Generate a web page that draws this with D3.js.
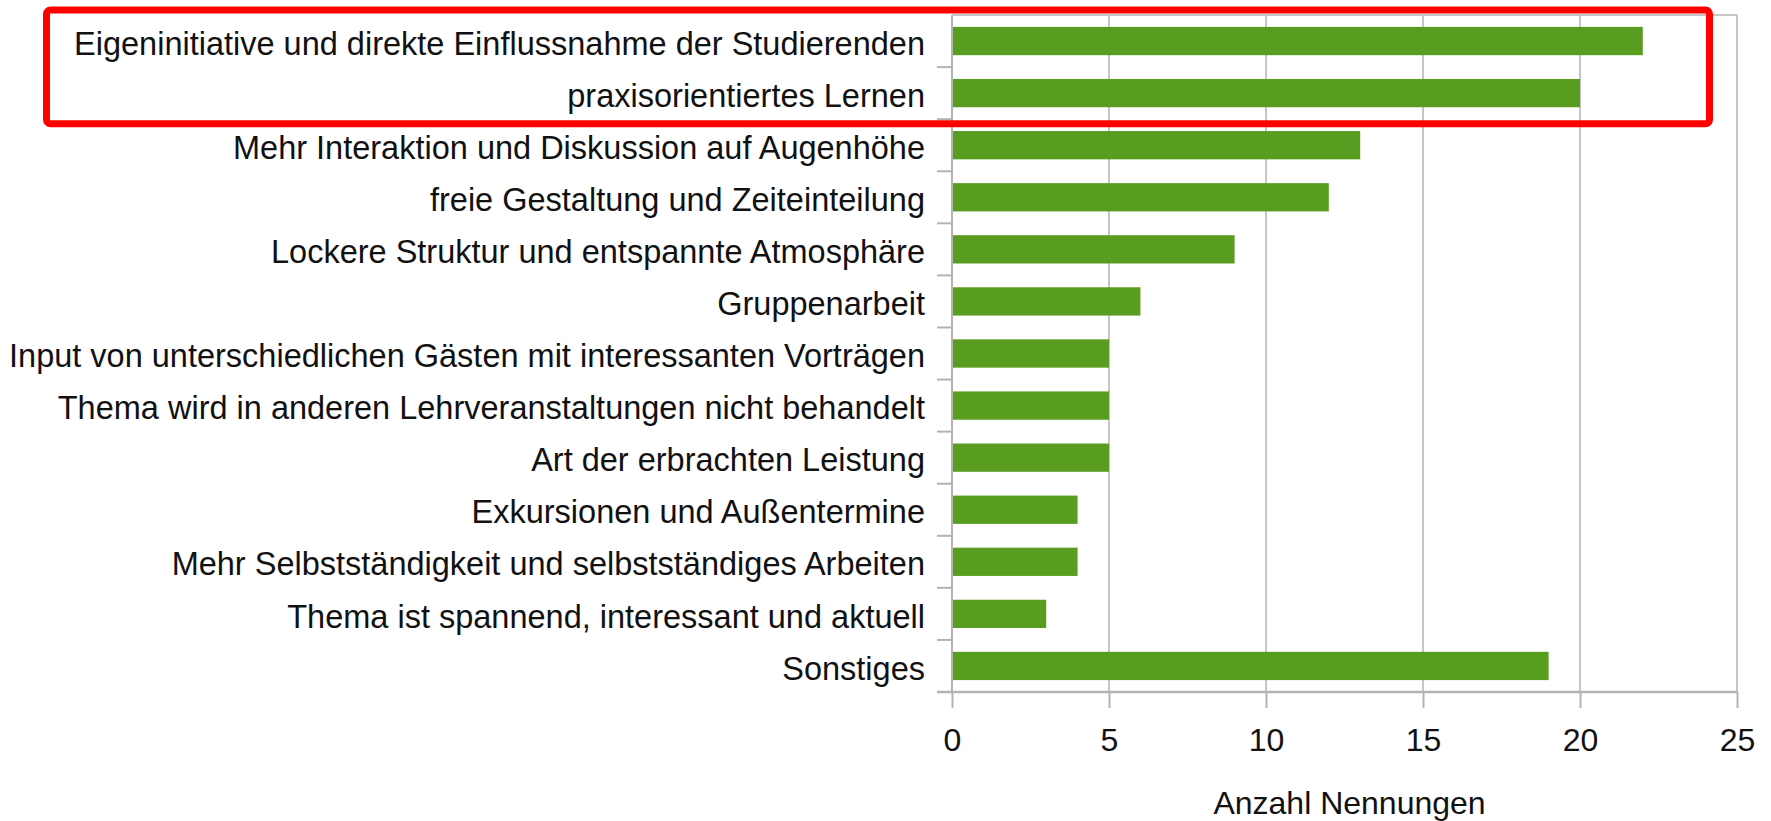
<!DOCTYPE html>
<html lang="de">
<head>
    <meta charset="UTF-8">
    <title>Anzahl Nennungen</title>
    <script src="https://cdn.jsdelivr.net/npm/d3@7/dist/d3.min.js"></script>
    <style>
        body { margin: 0; background: #fff; }
        svg text { font-family: "Liberation Sans", Arial, sans-serif; fill: #111; }
        .axis path { display: none; }
        .axis line { stroke: #b3b3b3; stroke-width: 2; }
    </style>
</head>
<body>
<script>
    //categories and counts, top to bottom
    var categories = [
        'Eigeninitiative und direkte Einflussnahme der Studierenden',
        'praxisorientiertes Lernen',
        'Mehr Interaktion und Diskussion auf Augenhöhe',
        'freie Gestaltung und Zeiteinteilung',
        'Lockere Struktur und entspannte Atmosphäre',
        'Gruppenarbeit',
        'Input von unterschiedlichen Gästen mit interessanten Vorträgen',
        'Thema wird in anderen Lehrveranstaltungen nicht behandelt',
        'Art der erbrachten Leistung',
        'Exkursionen und Außentermine',
        'Mehr Selbstständigkeit und selbstständiges Arbeiten',
        'Thema ist spannend, interessant und aktuell',
        'Sonstiges'
    ];
    var counts = [22, 20, 13, 12, 9, 6, 5, 5, 5, 4, 4, 3, 19];
    var xTicks = [0, 5, 10, 15, 20, 25];
    var xTitle = 'Anzahl Nennungen';
    var highlighted = [0, 1];

    //size and plot area
    var w = 1771, h = 821;
    var plotLeft = 952, plotRight = 1737, plotTop = 15, plotBottom = 692;

    var svg = d3.select('body').append('svg')
        .attr('width', w)
        .attr('height', h);

    var x = d3.scaleLinear().domain([0, 25]).range([plotLeft, plotRight]);
    var y = d3.scaleBand().domain(categories).range([plotTop, plotBottom])
        .paddingInner(0.457).paddingOuter(0.2285);
    var step = y.step();

    //vertical grid lines
    svg.append('g').selectAll('line')
        .data(xTicks.slice(1))
        .enter().append('line')
        .attr('x1', function(d) { return x(d); })
        .attr('x2', function(d) { return x(d); })
        .attr('y1', plotTop).attr('y2', plotBottom)
        .attr('stroke', '#b3b3b3').attr('stroke-width', 1.5);

    //top frame line
    svg.append('line')
        .attr('x1', plotLeft).attr('x2', plotRight)
        .attr('y1', plotTop).attr('y2', plotTop)
        .attr('stroke', '#b3b3b3').attr('stroke-width', 1.5);

    //bars
    svg.append('g').selectAll('rect')
        .data(counts)
        .enter().append('rect')
        .attr('x', x(0))
        .attr('y', function(d, i) { return y(categories[i]); })
        .attr('width', function(d) { return x(d) - x(0); })
        .attr('height', y.bandwidth())
        .attr('fill', '#589d1f');

    //left axis line and ticks at band boundaries
    svg.append('line')
        .attr('x1', plotLeft).attr('x2', plotLeft)
        .attr('y1', plotTop).attr('y2', plotBottom)
        .attr('stroke', '#b3b3b3').attr('stroke-width', 2);
    svg.append('g').selectAll('line')
        .data(categories)
        .enter().append('line')
        .attr('x1', plotLeft - 15).attr('x2', plotLeft)
        .attr('y1', function(d, i) { return plotTop + step * (i + 1); })
        .attr('y2', function(d, i) { return plotTop + step * (i + 1); })
        .attr('stroke', '#b3b3b3').attr('stroke-width', 2);

    //category labels
    var yAxis = d3.axisLeft(y).tickSize(0).tickPadding(27);
    svg.append('g')
        .attr('class', 'axis')
        .attr('transform', 'translate(' + plotLeft + ',0)')
        .call(yAxis)
        .selectAll('text')
        .attr('dy', '0.42em')
        .attr('font-size', 32.5)
        .attr('font-family', '"Liberation Sans", Arial, sans-serif');

    //bottom axis
    var xAxis = d3.axisBottom(x).tickValues(xTicks)
        .tickSizeInner(16).tickSizeOuter(0).tickPadding(20);
    svg.append('g')
        .attr('class', 'axis')
        .attr('transform', 'translate(0,' + plotBottom + ')')
        .call(xAxis)
        .selectAll('text')
        .attr('font-size', 32)
        .attr('font-family', '"Liberation Sans", Arial, sans-serif');
    svg.append('line')
        .attr('x1', plotLeft - 15).attr('x2', plotRight)
        .attr('y1', plotBottom).attr('y2', plotBottom)
        .attr('stroke', '#b3b3b3').attr('stroke-width', 2.5);

    //axis title
    svg.append('text')
        .attr('x', (plotLeft + plotRight) / 2 + 5)
        .attr('y', 814)
        .attr('text-anchor', 'middle')
        .attr('font-size', 32)
        .text(xTitle);

    //red highlight box round the first rows
    var gap = (step - y.bandwidth()) / 2;
    var hTop = y(categories[highlighted[0]]) - gap - 5;
    var hBottom = y(categories[highlighted[highlighted.length - 1]]) + y.bandwidth() + gap + 4.5;
    svg.append('rect')
        .attr('x', 46.5)
        .attr('y', hTop)
        .attr('width', x(25) - 27.5 - 46.5)
        .attr('height', hBottom - hTop)
        .attr('rx', 4)
        .attr('fill', 'none')
        .attr('stroke', '#ff0000')
        .attr('stroke-width', 7);
</script>
</body>
</html>
